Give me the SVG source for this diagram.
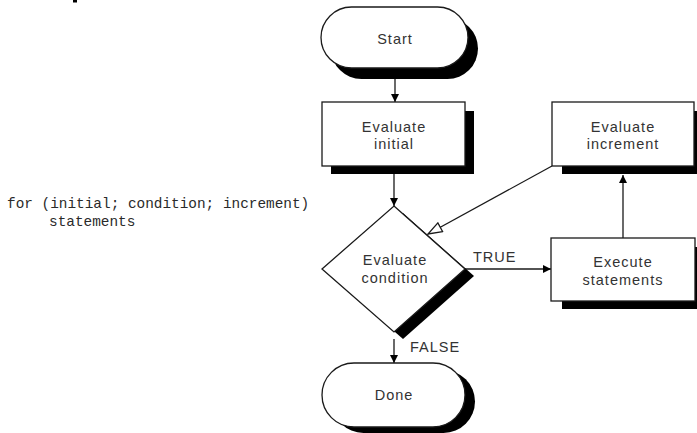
<svg xmlns="http://www.w3.org/2000/svg" width="697" height="433" viewBox="0 0 697 433">
  <style>
    .shape { fill: #ffffff; stroke: #1a1a1a; stroke-width: 1.3; }
    .shadow { fill: #000000; }
    .label { font-family: "Liberation Sans", Arial, sans-serif; font-size: 14.5px; fill: #333333; text-anchor: middle; letter-spacing: 1px; }
    .edge-label { font-family: "Liberation Sans", Arial, sans-serif; font-size: 14.5px; fill: #333333; letter-spacing: 1px; }
    .code { font-family: "Liberation Mono", "Courier New", monospace; font-size: 14.4px; fill: #2a2a2a; }
    .line { fill: none; stroke: #1a1a1a; stroke-width: 1.3; }
  </style>
  <defs>
    <marker id="arrow" viewBox="0 0 10 10" refX="10" refY="5" markerWidth="10" markerHeight="8" markerUnits="userSpaceOnUse" orient="auto">
      <path d="M0,0 L10,5 L0,10 z" fill="#000000"/>
    </marker>
    <marker id="open-arrow" viewBox="-1 -1 16 12" refX="14" refY="5" markerWidth="16" markerHeight="12" markerUnits="userSpaceOnUse" orient="auto">
      <path d="M0,0 L14,5 L0,10 z" fill="#ffffff" stroke="#1a1a1a" stroke-width="1.3"/>
    </marker>
  </defs>

  <rect width="697" height="433" fill="#ffffff"/>

  <!-- clipped heading fragment at the top edge -->
  <rect x="73" y="0" width="4" height="2.5" fill="#000000"/>

  <!-- source snippet -->
  <text class="code" x="7" y="208">for (initial; condition; increment)</text>
  <text class="code" x="49" y="226">statements</text>

  <!-- connectors -->
  <g id="connectors">
    <line class="line" x1="395" y1="79" x2="395" y2="102" marker-end="url(#arrow)"/>
    <line class="line" x1="394" y1="174" x2="394" y2="206" marker-end="url(#arrow)"/>
    <line class="line" x1="465" y1="269" x2="551" y2="269" marker-end="url(#arrow)"/>
    <line class="line" x1="623" y1="238" x2="623" y2="175" marker-end="url(#arrow)"/>
    <line class="line" x1="552" y1="166" x2="428" y2="234" marker-end="url(#open-arrow)"/>
    <line class="line" x1="394" y1="339" x2="394" y2="363" marker-end="url(#arrow)"/>
    <text class="edge-label" x="473" y="262">TRUE</text>
    <text class="edge-label" x="410" y="352">FALSE</text>
  </g>

  <!-- Start terminator -->
  <g id="start">
    <rect class="shadow" x="331" y="18" width="147" height="61" rx="30.5"/>
    <rect class="shape" x="321" y="7" width="147" height="61" rx="30.5"/>
    <text class="label" x="395" y="44">Start</text>
  </g>

  <!-- Evaluate initial -->
  <g id="eval-initial">
    <rect class="shadow" x="331" y="111" width="143" height="63"/>
    <rect class="shape" x="322" y="102" width="143" height="64"/>
    <text class="label" x="394" y="132">Evaluate</text>
    <text class="label" x="394" y="149">initial</text>
  </g>

  <!-- Evaluate increment -->
  <g id="eval-increment">
    <rect class="shadow" x="562" y="111" width="140" height="63"/>
    <rect class="shape" x="552" y="102" width="142" height="64"/>
    <text class="label" x="623" y="132">Evaluate</text>
    <text class="label" x="623" y="149">increment</text>
  </g>

  <!-- Evaluate condition decision -->
  <g id="eval-condition">
    <polygon class="shadow" points="403,213 474,276 403,339 331,276"/>
    <polygon class="shape" points="394,206 465,269 394,332 322,269"/>
    <text class="label" x="395" y="265">Evaluate</text>
    <text class="label" x="395" y="283">condition</text>
  </g>

  <!-- Execute statements -->
  <g id="exec-statements">
    <rect class="shadow" x="562" y="247" width="140" height="62"/>
    <rect class="shape" x="551" y="238" width="144" height="63"/>
    <text class="label" x="623" y="267">Execute</text>
    <text class="label" x="623" y="285">statements</text>
  </g>

  <!-- Done terminator -->
  <g id="done">
    <rect class="shadow" x="332" y="370" width="143" height="63" rx="31.5"/>
    <rect class="shape" x="322" y="363" width="143" height="64" rx="32"/>
    <text class="label" x="394" y="400">Done</text>
  </g>
</svg>
